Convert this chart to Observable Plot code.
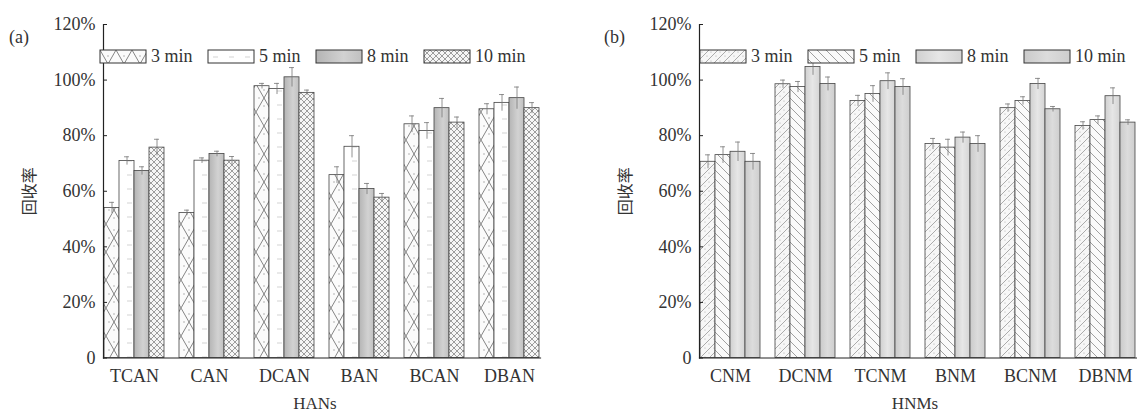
<!DOCTYPE html>
<html><head><meta charset="utf-8">
<script src="https://cdn.jsdelivr.net/npm/d3@7"></script>
<script src="https://cdn.jsdelivr.net/npm/@observablehq/plot@0.6"></script>
<style>
body{margin:0;background:#fff;overflow:hidden;}
#wrap{position:relative;width:1137px;height:414px;overflow:hidden;background:#fff;}
.panel{position:absolute;top:0;}
.tag{position:absolute;font:18px "Liberation Serif",serif;color:#333;}
.leg{position:absolute;top:40px;}
.leg, .leg *{font-family:"Liberation Serif",serif !important;font-size:18px !important;color:#333 !important;}
.leg span[class$="-swatch"]{width:108px;margin-right:0 !important;}
.leg span[class$="-swatch"] > svg{margin-right:5px !important;overflow:visible;}
.leg span[class$="-swatch"] > svg rect{stroke:#333;stroke-width:1;}
</style>
</head><body>
<svg width="0" height="0" style="position:absolute">
 <defs>
  <pattern id="pA3" patternUnits="userSpaceOnUse" width="16" height="28">
   <rect width="16" height="28" fill="#fbfbfb"/>
   <path d="M0,0L16,28M16,0L0,28" stroke="#666" stroke-width="0.8"/>
   <circle cx="8" cy="6" r="0.7" fill="#999"/><circle cx="8" cy="22" r="0.7" fill="#999"/>
   <circle cx="3" cy="14" r="0.7" fill="#999"/><circle cx="13" cy="14" r="0.7" fill="#999"/>
  </pattern>
  <pattern id="pA5" patternUnits="userSpaceOnUse" width="16" height="14">
   <rect width="16" height="14" fill="#fff"/>
   <path d="M5,7L10,7" stroke="#d4d4d4" stroke-width="1"/>
  </pattern>
  <linearGradient id="gA8" x1="0" x2="1" y1="0" y2="0">
   <stop offset="0" stop-color="#b4b4b4"/><stop offset="0.6" stop-color="#d2d2d2"/><stop offset="1" stop-color="#c0c0c0"/>
  </linearGradient>
  <pattern id="pA10" patternUnits="userSpaceOnUse" width="6" height="6">
   <rect width="6" height="6" fill="#f6f6f6"/>
   <path d="M0,0L6,6M6,0L0,6" stroke="#777" stroke-width="0.7"/>
  </pattern>
  <pattern id="pB3" patternUnits="userSpaceOnUse" width="9" height="9">
   <rect width="9" height="9" fill="#f7f7f7"/>
   <path d="M0,9L9,0M-2,2L2,-2M7,11L11,7" stroke="#8a8a8a" stroke-width="0.7"/>
   <circle cx="2" cy="2" r="0.6" fill="#aaa"/><circle cx="7" cy="6" r="0.6" fill="#aaa"/>
  </pattern>
  <pattern id="pB5" patternUnits="userSpaceOnUse" width="9" height="9">
   <rect width="9" height="9" fill="#fafafa"/>
   <path d="M0,0L9,9M-2,7L2,11M7,-2L11,2" stroke="#7a7a7a" stroke-width="0.7"/>
  </pattern>
  <linearGradient id="gB8" x1="0" x2="1" y1="0" y2="0">
   <stop offset="0" stop-color="#d0d0d0"/><stop offset="0.5" stop-color="#e6e6e6"/><stop offset="1" stop-color="#d4d4d4"/>
  </linearGradient>
  <linearGradient id="gB10" x1="0" x2="1" y1="0" y2="0">
   <stop offset="0" stop-color="#cacaca"/><stop offset="0.5" stop-color="#dcdcdc"/><stop offset="1" stop-color="#cecece"/>
  </linearGradient>
 </defs>
</svg>
<div id="wrap"></div>
<script>
// ---- data ----
const times = ["3 min", "5 min", "8 min", "10 min"];
const catsA = ["TCAN", "CAN", "DCAN", "BAN", "BCAN", "DBAN"];
const a3  = [54.0, 52.2, 97.8, 65.8, 84.1, 89.5];
const a5  = [70.9, 71.0, 96.8, 76.0, 81.7, 91.8];
const a8  = [67.3, 73.4, 101.0, 60.8, 89.9, 93.5];
const a10 = [75.7, 71.0, 95.4, 57.7, 84.7, 89.9];
const ea3  = [2.0, 1.0, 1.0, 3.0, 3.0, 2.0];
const ea5  = [1.5, 1.0, 2.0, 4.0, 3.0, 3.0];
const ea8  = [1.5, 1.0, 3.5, 2.0, 3.5, 4.0];
const ea10 = [3.0, 1.5, 1.0, 1.5, 2.0, 2.0];

const catsB = ["CNM", "DCNM", "TCNM", "BNM", "BCNM", "DBNM"];
const b3  = [70.6, 98.5, 92.5, 77.0, 89.9, 83.5];
const b5  = [73.0, 97.5, 95.0, 75.7, 92.5, 85.6];
const b8  = [74.2, 104.7, 99.6, 79.3, 98.6, 94.2];
const b10 = [70.6, 98.6, 97.5, 77.0, 89.5, 84.7];
const eb3  = [2.5, 1.5, 2.0, 2.0, 1.5, 1.5];
const eb5  = [3.0, 2.0, 3.0, 3.0, 1.5, 1.5];
const eb8  = [3.5, 3.0, 3.0, 2.0, 2.0, 3.0];
const eb10 = [3.0, 2.5, 3.0, 3.0, 1.0, 1.0];

const yTicks = [0, 20, 40, 60, 80, 100, 120];
const yLabel = "回收率";

const FONT = '"Liberation Serif","Noto Sans CJK SC",serif';

function panel({cats, series, errs, pats, xlabel, width, marginLeft, marginRight, xlabelDx}) {
  const data = [];
  cats.forEach((c, i) => times.forEach((t, j) => data.push({cat: c, time: t, value: series[j][i], err: errs[j][i]})));
  return Plot.plot({
    width, height: 414,
    marginLeft, marginRight, marginTop: 24, marginBottom: 56.5,
    style: {fontFamily: FONT, fontSize: "18px", color: "#333", background: "transparent", overflow: "visible"},
    fx: {domain: cats, paddingInner: 0.18, paddingOuter: 0.1, label: null, axis: null},
    x: {domain: times, padding: 0, axis: null},
    y: {domain: [0, 120], axis: null},
    color: {domain: times, range: pats},
    marks: [
      Plot.barY(data, {fx: "cat", x: "time", y: "value", fill: "time", stroke: "#444", strokeWidth: 0.8}),
      Plot.ruleX(data, {fx: "cat", x: "time", y1: d => d.value - d.err, y2: d => d.value + d.err, stroke: "#777", strokeWidth: 0.8}),
      Plot.tickY(data, {fx: "cat", x: "time", y: d => d.value + d.err, insetLeft: 5, insetRight: 5, stroke: "#777", strokeWidth: 0.8}),
      Plot.axisY(yTicks, {tickFormat: d => d === 0 ? "0" : d + "%", tickSize: -4, tickPadding: 12, label: null, stroke: "#222", fontSize: 18}),
      Plot.axisFx({anchor: "bottom", tickSize: 0, tickPadding: 11, label: null, fontSize: 18}),
      Plot.frame({anchor: "left", facet: "super", stroke: "#222", strokeWidth: 1.2}),
      Plot.frame({anchor: "bottom", facet: "super", stroke: "#222", strokeWidth: 1.2}),
      Plot.text([yLabel], {facet: "super", frameAnchor: "left", dx: -74, rotate: -90, text: d => d, fontSize: 16, textAnchor: "middle", lineAnchor: "middle", fill: "#333"}),
      Plot.text([xlabel], {facet: "super", frameAnchor: "bottom", dx: xlabelDx, dy: 46, text: d => d, fontSize: 17, lineAnchor: "middle", fill: "#333"})
    ]
  });
}

const wrap = document.getElementById("wrap");

const pA = panel({cats: catsA, series: [a3, a5, a8, a10], errs: [ea3, ea5, ea8, ea10],
  pats: ["url(#pA3)", "url(#pA5)", "url(#gA8)", "url(#pA10)"], xlabel: "HANs",
  width: 560, marginLeft: 93, marginRight: 10, xlabelDx: -7});
pA.classList.add("panel"); pA.style.left = "0px";
wrap.appendChild(pA);

const pB = panel({cats: catsB, series: [b3, b5, b8, b10], errs: [eb3, eb5, eb8, eb10],
  pats: ["url(#pB3)", "url(#pB5)", "url(#gB8)", "url(#gB10)"], xlabel: "HNMs",
  width: 566, marginLeft: 109, marginRight: 0, xlabelDx: -3});
pB.classList.add("panel"); pB.style.left = "580px";
wrap.appendChild(pB);

function addLegend(p, left) {
  const lg = p.legend("color", {legend: "swatches", swatchWidth: 46, swatchHeight: 13});
  const d = document.createElement("div");
  d.className = "leg"; d.style.left = left + "px";
  d.appendChild(lg);
  wrap.appendChild(d);
}
addLegend(pA, 100);
addLegend(pB, 700);

const ta = document.createElement("div"); ta.className = "tag"; ta.textContent = "(a)";
ta.style.left = "9px"; ta.style.top = "27px"; wrap.appendChild(ta);
const tb = document.createElement("div"); tb.className = "tag"; tb.textContent = "(b)";
tb.style.left = "604px"; tb.style.top = "27px"; wrap.appendChild(tb);
</script>
</body></html>
